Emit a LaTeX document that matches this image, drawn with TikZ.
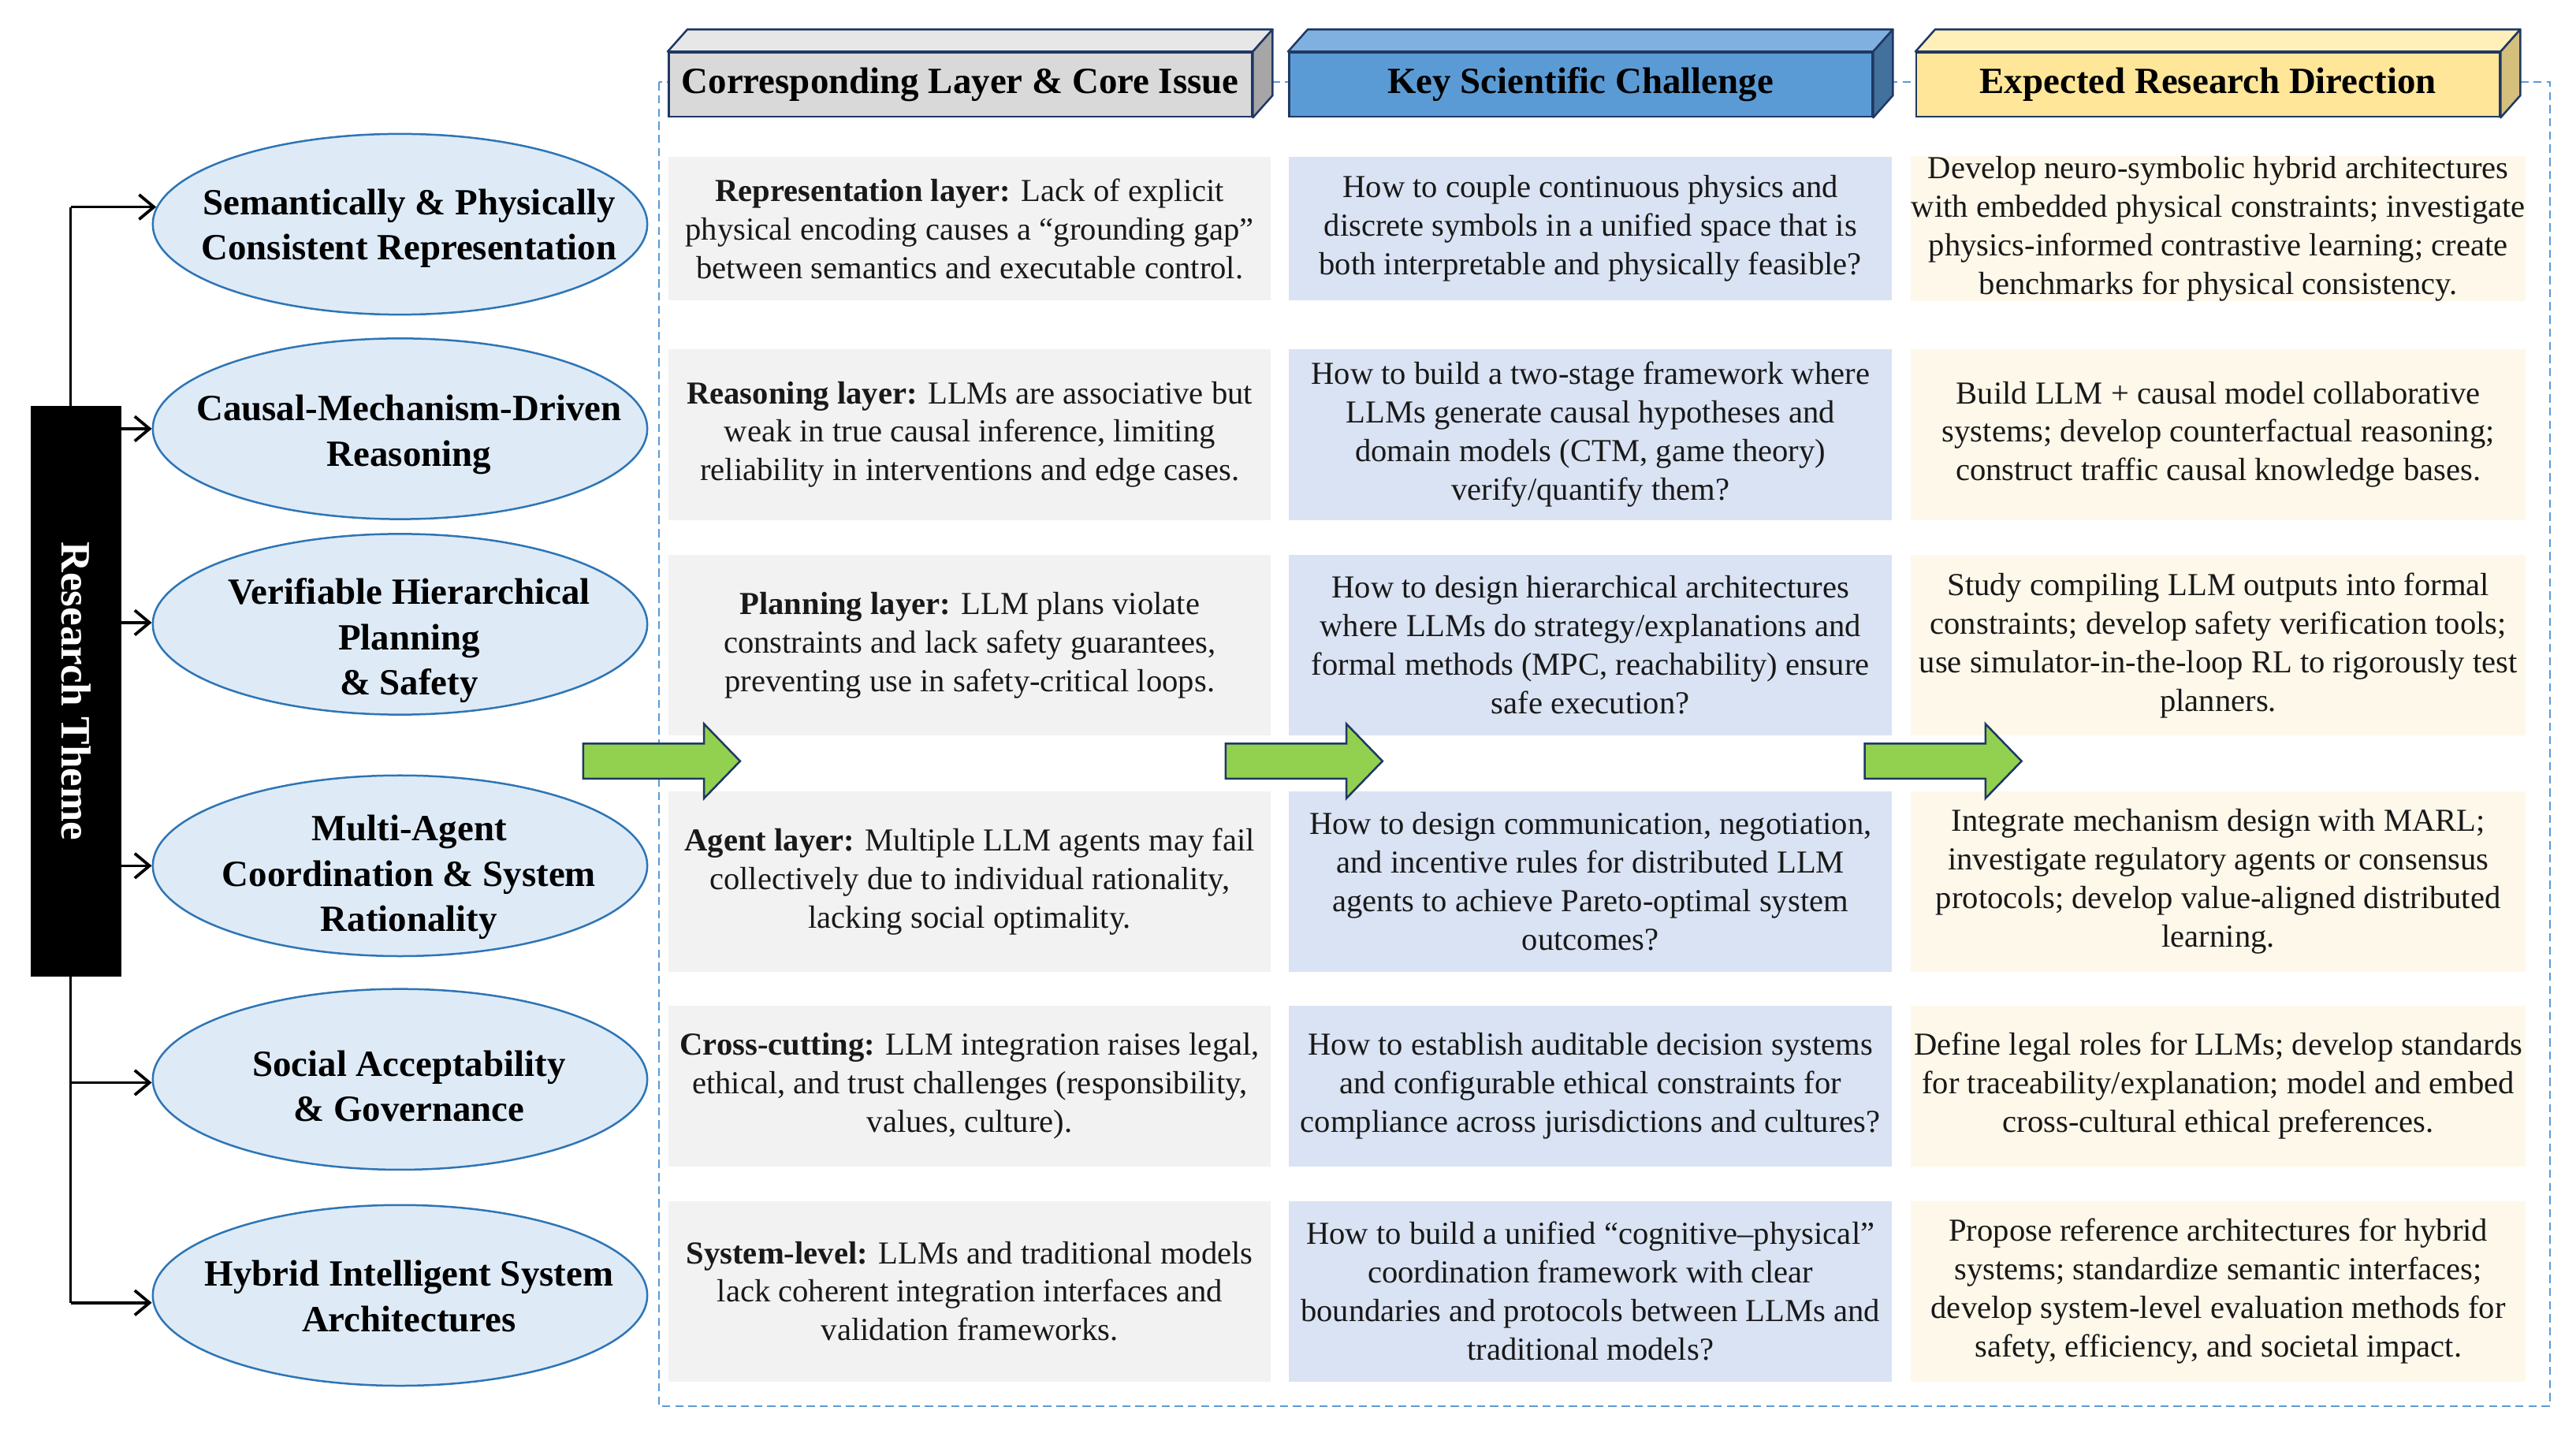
\documentclass[tikz,border=0pt]{standalone}
\usepackage{fontspec}
\setmainfont{Liberation Serif}
\usetikzlibrary{arrows.meta,shapes.geometric,calc}
\definecolor{navy}{HTML}{1F3864}
\definecolor{dashblue}{HTML}{5B9BD5}
\definecolor{ellfill}{HTML}{DEEBF7}
\definecolor{elldraw}{HTML}{2E75B6}
\definecolor{cellgrey}{HTML}{F2F2F2}
\definecolor{cellblue}{HTML}{DAE3F3}
\definecolor{cellcream}{HTML}{FEF8EA}
\definecolor{hgreyF}{HTML}{D9D9D9}
\definecolor{hgreyT}{HTML}{E7E7E7}
\definecolor{hgreyS}{HTML}{A6A6A6}
\definecolor{hblueF}{HTML}{5B9BD5}
\definecolor{hblueT}{HTML}{80B0E0}
\definecolor{hblueS}{HTML}{41719C}
\definecolor{hyelF}{HTML}{FFE699}
\definecolor{hyelT}{HTML}{FFEFB8}
\definecolor{hyelS}{HTML}{D4BF7C}
\definecolor{arrowgreen}{HTML}{92D050}
\newcommand{\cellfont}{\fontsize{19.5}{23.5}\selectfont}
\newcommand{\ellfont}{\fontsize{22.5}{27.5}\selectfont\bfseries}
\newcommand{\headfont}{\fontsize{22.5}{27}\selectfont\bfseries}
\newcommand{\barfont}{\fontsize{25.5}{30}\selectfont\bfseries}
\begin{document}
\begin{tikzpicture}[x=1pt,y=-1pt,
  themeell/.style={ellipse, fill=ellfill, draw=elldraw, line width=1.2pt,
    minimum width=301pt, minimum height=110pt, inner sep=0pt},
  themetext/.style={font=\ellfont, align=center, inner sep=0pt},
  cellbox/.style={inner sep=0pt, align=center, font=\cellfont, text=black!90},
  headfront/.style={draw=navy, line width=1.2pt, minimum width=355pt,
    minimum height=39pt, inner sep=0pt, font=\headfont},
  facestyle/.style={draw=navy, line width=1.2pt, line join=round},
  branch/.style={draw=black, line width=1.8pt,
    -{Straight Barb[length=9pt,width=15pt,line width=1.8pt]}},
  trunk/.style={draw=black, line width=1.8pt},
  garrow/.style={fill=arrowgreen, draw=navy, line width=1.2pt, line join=miter},
  frame/.style={draw=dashblue, line width=1.1pt, dash pattern=on 5pt off 3pt}
]
\useasboundingbox (0,0) rectangle (1568,872);

% dashed frame
\draw[frame] (401,50) rectangle (1552,856);

% trunk coordinates
\coordinate (t1) at (43,126);
\coordinate (t2) at (43,261);
\coordinate (t3) at (43,379);
\coordinate (t4) at (43,527);
\coordinate (t5) at (43,659);
\coordinate (t6) at (43,793);

% theme ellipses
\node[themeell] (e1) at (243.5,136.5) {};
\node[themeell] (e2) at (243.5,261) {};
\node[themeell] (e3) at (243.5,380) {};
\node[themeell] (e4) at (243.5,527) {};
\node[themeell] (e5) at (243.5,657) {};
\node[themeell] (e6) at (243.5,788.5) {};

\node[themetext] (te1) at (249,139) {Semantically \& Physically\\Consistent Representation};
\node[themetext] (te2) at (249,264.5) {Causal-Mechanism-Driven\\Reasoning};
\node[themetext] (te3) at (249,390) {Verifiable Hierarchical\\Planning\\\& Safety};
\node[themetext] (te4) at (249,534) {Multi-Agent\\Coordination \& System\\Rationality};
\node[themetext] (te5) at (249,661) {Social Acceptability\\\& Governance};
\node[themetext] (te6) at (249,789) {Hybrid Intelligent System\\Architectures};

\draw[trunk] (t1) -- (t6);
\draw[branch] (t1) -- (t1 -| e1.176);
\draw[branch] (t2) -- (t2 -| e2.west);
\draw[branch] (t3) -- (t3 -| e3.west);
\draw[branch] (t4) -- (t4 -| e4.west);
\draw[branch] (t5) -- (t5 -| e5.west);
\draw[branch] (t6) -- (t6 -| e6.west);

% research theme bar
\node[fill=black, rotate=-90, minimum width=347.5pt, minimum height=55.3pt,
  inner sep=0pt, text=white, font=\barfont] (bar) at (46.35,420.75) {Research Theme};

% header 3D boxes
\node[headfront, fill=hgreyF] (h1) at (584.5,51.5) {Corresponding Layer \& Core Issue};
\node[headfront, fill=hblueF] (h2) at (962.1,51.5) {Key Scientific Challenge};
\node[headfront, fill=hyelF] (h3) at (1344,51.5) {Expected Research Direction};
\foreach \h/\tc/\sc in {h1/hgreyT/hgreyS, h2/hblueT/hblueS, h3/hyelT/hyelS}{
  \draw[facestyle, fill=\tc] (\h.north west) -- ++(12,-13.5) -- ($(\h.north east)+(12,-13.5)$) -- (\h.north east) -- cycle;
  \draw[facestyle, fill=\sc] (\h.north east) -- ++(12,-13.5) -- ($(\h.south east)+(12,-13.5)$) -- (\h.south east) -- cycle;
}

% column 1 cells
\node[cellbox, fill=cellgrey, minimum width=366.5pt, minimum height=87.5pt] (c11) at (590.25,139.25)
 {\textbf{Representation layer:} Lack of explicit\\physical encoding causes a “grounding gap”\\between semantics and executable control.};
\node[cellbox, fill=cellgrey, minimum width=366.5pt, minimum height=104pt] (c12) at (590.25,264.5)
 {\textbf{Reasoning layer:} LLMs are associative but\\weak in true causal inference, limiting\\reliability in interventions and edge cases.};
\node[cellbox, fill=cellgrey, minimum width=366.5pt, minimum height=109.5pt] (c13) at (590.25,392.75)
 {\textbf{Planning layer:} LLM plans violate\\constraints and lack safety guarantees,\\preventing use in safety-critical loops.};
\node[cellbox, fill=cellgrey, minimum width=366.5pt, minimum height=110pt] (c14) at (590.25,536.5)
 {\textbf{Agent layer:} Multiple LLM agents may fail\\collectively due to individual rationality,\\lacking social optimality.};
\node[cellbox, fill=cellgrey, minimum width=366.5pt, minimum height=98pt] (c15) at (590.25,661)
 {\textbf{Cross-cutting:} LLM integration raises legal,\\ethical, and trust challenges (responsibility,\\values, culture).};
\node[cellbox, fill=cellgrey, minimum width=366.5pt, minimum height=110pt] (c16) at (590.25,786)
 {\textbf{System-level:} LLMs and traditional models\\lack coherent integration interfaces and\\validation frameworks.};

% column 2 cells
\node[cellbox, fill=cellblue, minimum width=367.2pt, minimum height=87.5pt] (c21) at (968.1,139.25)
 {How to couple continuous physics and\\discrete symbols in a unified space that is\\both interpretable and physically feasible?};
\node[cellbox, fill=cellblue, minimum width=367.2pt, minimum height=104pt] (c22) at (968.1,264.5)
 {How to build a two-stage framework where\\LLMs generate causal hypotheses and\\domain models (CTM, game theory)\\verify/quantify them?};
\node[cellbox, fill=cellblue, minimum width=367.2pt, minimum height=109.5pt] (c23) at (968.1,392.75)
 {How to design hierarchical architectures\\where LLMs do strategy/explanations and\\formal methods (MPC, reachability) ensure\\safe execution?};
\node[cellbox, fill=cellblue, minimum width=367.2pt, minimum height=110pt] (c24) at (968.1,536.5)
 {How to design communication, negotiation,\\and incentive rules for distributed LLM\\agents to achieve Pareto-optimal system\\outcomes?};
\node[cellbox, fill=cellblue, minimum width=367.2pt, minimum height=98pt] (c25) at (968.1,661)
 {How to establish auditable decision systems\\and configurable ethical constraints for\\compliance across jurisdictions and cultures?};
\node[cellbox, fill=cellblue, minimum width=367.2pt, minimum height=110pt] (c26) at (968.1,786)
 {How to build a unified “cognitive–physical”\\coordination framework with clear\\boundaries and protocols between LLMs and\\traditional models?};

% column 3 cells
\node[cellbox, fill=cellcream, minimum width=374.5pt, minimum height=87.5pt] (c31) at (1350.25,139.25)
 {Develop neuro-symbolic hybrid architectures\\with embedded physical constraints; investigate\\physics-informed contrastive learning; create\\benchmarks for physical consistency.};
\node[cellbox, fill=cellcream, minimum width=374.5pt, minimum height=104pt] (c32) at (1350.25,264.5)
 {Build LLM + causal model collaborative\\systems; develop counterfactual reasoning;\\construct traffic causal knowledge bases.};
\node[cellbox, fill=cellcream, minimum width=374.5pt, minimum height=109.5pt] (c33) at (1350.25,392.75)
 {Study compiling LLM outputs into formal\\constraints; develop safety verification tools;\\use simulator-in-the-loop RL to rigorously test\\planners.};
\node[cellbox, fill=cellcream, minimum width=374.5pt, minimum height=110pt] (c34) at (1350.25,536.5)
 {Integrate mechanism design with MARL;\\investigate regulatory agents or consensus\\protocols; develop value-aligned distributed\\learning.};
\node[cellbox, fill=cellcream, minimum width=374.5pt, minimum height=98pt] (c35) at (1350.25,661)
 {Define legal roles for LLMs; develop standards\\for traceability/explanation; model and embed\\cross-cultural ethical preferences.};
\node[cellbox, fill=cellcream, minimum width=374.5pt, minimum height=110pt] (c36) at (1350.25,786)
 {Propose reference architectures for hybrid\\systems; standardize semantic interfaces;\\develop system-level evaluation methods for\\safety, efficiency, and societal impact.};

% green block arrows
\coordinate (g1) at (355,463.3);
\coordinate (g2) at (746,463.3);
\coordinate (g3) at (1135,463.3);
\foreach \g in {g1,g2,g3}{
  \draw[garrow] (\g) -- ++(0,-10.7) -- ++(73.5,0) -- ++(0,-12) -- ++(22,22.7)
    -- ++(-22,22.7) -- ++(0,-12) -- ++(-73.5,0) -- cycle;
}
\end{tikzpicture}
\end{document}
